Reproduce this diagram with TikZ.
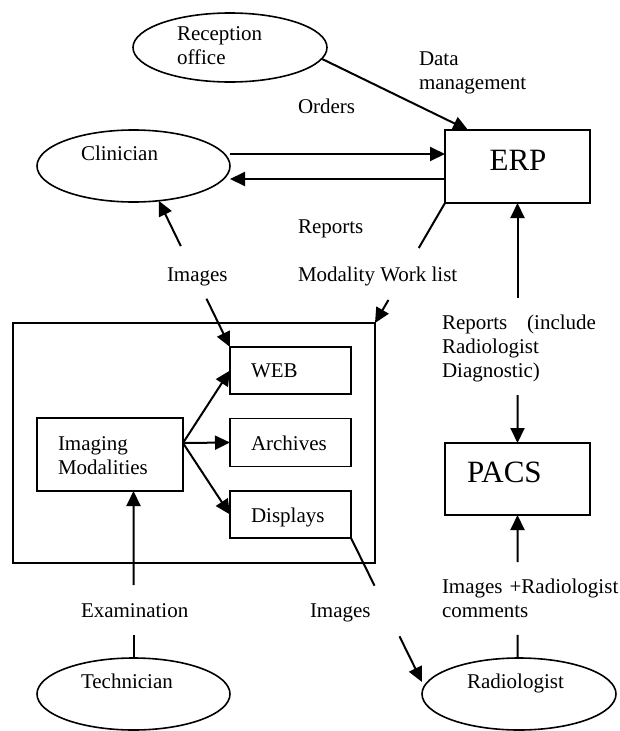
\documentclass[tikz,border=0pt]{standalone}
\usepackage{fontspec}
\setmainfont{Liberation Serif}
\usetikzlibrary{arrows.meta,calc,shapes.geometric}
\hyphenpenalty=10000
\begin{document}
\begin{tikzpicture}[x=1pt,y=-1pt,
  every node/.style={font=\fontsize{21}{24}\selectfont, inner sep=0pt, outer sep=0pt},
  ell/.style={draw, ellipse, line width=1.6pt, inner sep=0pt},
  box/.style={draw, rectangle, line width=1.6pt, inner sep=0pt},
  arr/.style={line width=2pt, -{Triangle[length=15pt,width=14pt]}},
  larr/.style={line width=2pt, {Triangle[length=15pt,width=14pt]}-},
  plain/.style={line width=2pt},
  lbl/.style={anchor=base west},
  mlbl/.style={anchor=base west, align=left, text width=#1},
  big/.style={font=\fontsize{31}{36}\selectfont}]
\useasboundingbox (0,0) rectangle (619,731);

% shapes
\node[ell, minimum width=194pt, minimum height=69pt] (rec) at (230,47.5) {};
\node[ell, minimum width=193pt, minimum height=72pt] (clin) at (133.5,166) {};
\node[ell, minimum width=193pt, minimum height=72pt] (tech) at (133.5,694) {};
\node[ell, minimum width=194pt, minimum height=72pt] (rad) at (519,694) {};
\node[box, minimum width=145pt, minimum height=73pt] (erp) at (517.5,166.5) {};
\node[box, minimum width=145pt, minimum height=72pt] (pacs) at (517.5,479) {};
\node[box, minimum width=362pt, minimum height=240pt] (outer) at (194,443) {};
\node[box, minimum width=121pt, minimum height=47pt] (web) at (290.5,370.5) {};
\node[box, minimum width=121pt, minimum height=48pt] (arch) at (290.5,442.5) {};
\node[box, minimum width=121pt, minimum height=47pt] (disp) at (290.5,514.5) {};
\node[box, minimum width=146pt, minimum height=73pt] (im) at (110,454.5) {};

% texts in shapes
\node[mlbl=110pt] (trec) at (177,40) {Reception\\office};
\node[lbl] (tclin) at (81,160) {Clinician};
\node[lbl] (ttech) at (81,688) {Technician};
\node[lbl] (trad) at (467,688) {Radiologist};
\node[big, anchor=base] (terp) at (518,170) {ERP};
\node[big, anchor=base west] (tpacs) at (467,482) {PACS};
\node[lbl] (tweb) at (251,377) {WEB};
\node[lbl] (tarch) at (251,450) {Archives};
\node[lbl] (tdisp) at (251,522) {Displays};
\node[mlbl=120pt] (tim) at (58,450) {Imaging\\Modalities};

% connector labels
\node[mlbl=130pt] (ldata) at (419,65) {Data\\management};
\node[lbl] (lord) at (298,113) {Orders};
\node[lbl] (lrep) at (298,233) {Reports};
\node[lbl] (limg1) at (167,281) {Images};
\node[lbl] (lmwl) at (298,281) {Modality Work list};
\node[mlbl=154pt] (lrep2) at (442,329) {Reports\hfill(include\\Radiologist\\Diagnostic)};
\node[lbl] (lexam) at (81,617) {Examination};
\node[lbl] (limg2) at (310,617) {Images};
\node[mlbl=180pt] (limg3) at (442,593) {Images +Radiologist\\comments};

% connectors
\draw[arr] (rec.-7) -- ([xshift=23pt]erp.north west);
\draw[arr] ([yshift=12pt]clin.east) -- ([yshift=12pt]clin.east -| erp.west);
\draw[arr] ([yshift=-12.5pt]erp.west) -- ([yshift=-12.5pt]erp.west -| clin.east);

\draw[larr] (clin.-54) -- ($(clin.-54)!0.31!(web.north west)$);
\draw[arr] ($(clin.-54)!0.67!(web.north west)$) -- (web.north west);

\draw[plain] (erp.south west) -- ($(erp.south west)!0.375!(outer.north east)$);
\draw[arr] ($(erp.south west)!0.808!(outer.north east)$) -- (outer.north east);

\draw[larr] (erp.south) -- ($(erp.south)!0.396!(pacs.north)$);
\draw[arr] ($(erp.south)!0.8!(pacs.north)$) -- (pacs.north);

\coordinate (fan) at ([yshift=11.5pt]im.east);
\draw[arr] (fan) -- (web.west);
\draw[arr] (fan) -- (arch.west);
\draw[arr] (fan) -- (disp.west);

\coordinate (radin) at ([yshift=12pt]rad.west);
\draw[plain] (disp.south east) -- ($(disp.south east)!0.331!(radin)$);
\draw[arr] ($(disp.south east)!0.683!(radin)$) -- (radin);

\coordinate (imb) at (tech.north |- im.south);
\draw[plain] (tech.north) -- ($(tech.north)!0.138!(imb)$);
\draw[arr] ($(tech.north)!0.437!(imb)$) -- (imb);

\coordinate (radtop) at (pacs.south |- rad.north);
\draw[plain] (radtop) -- ($(radtop)!0.161!(pacs.south)$);
\draw[arr] ($(radtop)!0.671!(pacs.south)$) -- (pacs.south);
\end{tikzpicture}
\end{document}
